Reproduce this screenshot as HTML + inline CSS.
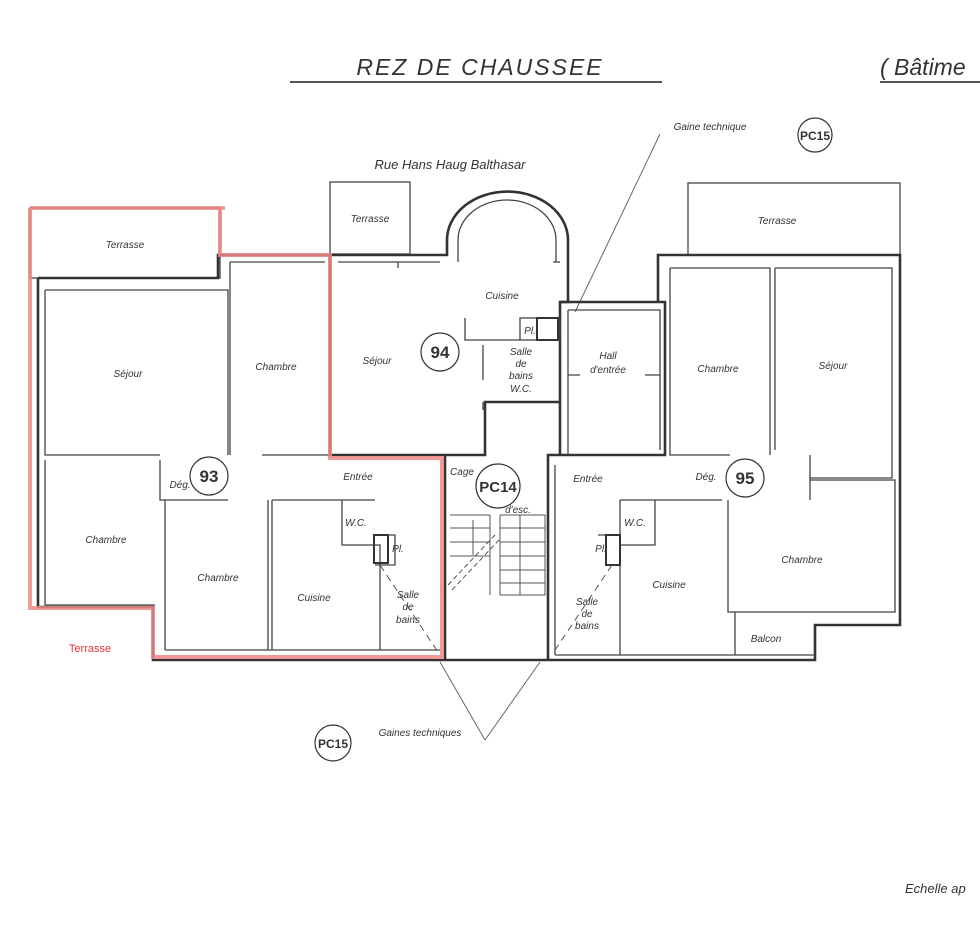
<!DOCTYPE html>
<html><head><meta charset="utf-8"><style>
html,body{margin:0;padding:0;background:#fff;}
svg{display:block}
text{font-family:"Liberation Sans",sans-serif;font-style:italic;fill:#333;}
.l{font-size:10px;}
.w{stroke:#444;fill:none;stroke-width:1.3}
.W{stroke:#333;fill:none;stroke-width:2.6}
.r{stroke:#e88;fill:none;stroke-width:4;opacity:.85}
.c{stroke:#333;fill:#fff;stroke-width:1.2}
.n{font-style:normal;font-weight:bold;font-size:17px;fill:#333}
</style></head><body>
<svg width="980" height="925" viewBox="0 0 980 925" xmlns="http://www.w3.org/2000/svg">
<text x="480" y="75" text-anchor="middle" style="font-size:23px;letter-spacing:2px">REZ DE CHAUSSEE</text>
<line x1="290" y1="82" x2="662" y2="82" stroke="#555" stroke-width="2"/>
<text x="880" y="75" style="font-size:23px">( Bâtime</text>
<line x1="880" y1="82" x2="980" y2="82" stroke="#555" stroke-width="2"/>
<text x="450" y="169" text-anchor="middle" style="font-size:13px">Rue Hans Haug Balthasar</text>
<text x="710" y="130" text-anchor="middle" class="l">Gaine technique</text>
<line x1="660" y1="134" x2="575" y2="312" stroke="#666" stroke-width="1"/>
<circle cx="815" cy="135" r="17" class="c"/><text x="815" y="140" text-anchor="middle" class="n" style="font-size:12px">PC15</text>

<rect x="30" y="208" width="190" height="70" class="w"/>
<rect x="330" y="182" width="80" height="72" class="w"/>
<rect x="688" y="183" width="212" height="72" class="w"/>

<path class="W" d="M38,278 L218,278 L218,255 L447,255 L447,240 A60,48 0 0 1 568,240 L568,302 L560,302 L560,455"/>
<path class="w" d="M458,262 L458,240 A49,40 0 0 1 556,240 L556,262"/>
<path class="W" d="M330,255 L330,455 L485,455 L485,402 L560,402"/>
<path class="W" d="M560,302 L665,302 L665,455 L548,455 L548,660"/>
<path class="W" d="M658,302 L658,255 L900,255 L900,625 L815,625 L815,660 L153,660 L153,607 L38,607 L38,278"/>
<path class="W" d="M445,455 L445,660"/>
<rect x="520" y="318" width="40" height="22" class="w"/>
<rect x="537" y="318" width="21" height="22" class="W" style="stroke-width:2"/>

<path class="w" d="M45,290 L228,290 L228,455 M45,290 L45,455 L160,455 M45,460 L45,605 L155,605 M160,460 L160,500 L228,500 M230,262 L325,262 M230,262 L230,455 M262,455 L330,455 M165,500 L165,650 M268,500 L268,650 M272,500 L272,650 M272,500 L375,500 M342,500 L342,545 L380,545 L380,650 M375,535 L395,535 L395,565 L375,565 M165,650 L440,650"/>
<rect x="374" y="535" width="14" height="28" class="W" style="stroke-width:2"/>
<line x1="380" y1="565" x2="440" y2="655" stroke="#555" stroke-dasharray="7,5"/>
<path class="w" d="M338,262 L440,262 M398,262 L398,268 M465,318 L465,340 L520,340 M483,345 L483,380 M483,402 L483,410 M553,262 L560,262"/>
<path class="w" d="M568,310 L660,310 L660,450 M568,310 L568,455 M568,375 L580,375 M645,375 L660,375"/>
<g stroke="#555" stroke-width="1" fill="none">
<path d="M450,515 L490,515 M450,528 L490,528 M450,542 L490,542 M450,556 L490,556 M490,515 L490,595 M500,515 L545,515 L545,595 L500,595 L500,515 M500,528 L545,528 M500,542 L545,542 M500,556 L545,556 M500,570 L545,570 M500,583 L545,583 M520,515 L520,595"/>
<path d="M448,585 L495,535 M452,590 L499,540" stroke-dasharray="5,3"/>
<line x1="473" y1="520" x2="473" y2="555"/>
</g>
<circle cx="498" cy="486" r="22" class="c"/><text x="498" y="492" text-anchor="middle" class="n" style="font-size:15px">PC14</text>
<path class="w" d="M670,268 L770,268 L770,455 M670,268 L670,455 L730,455 M775,268 L892,268 L892,478 L810,478 M775,268 L775,450 M810,455 L810,500 M728,500 L728,612 L895,612 L895,480 L810,480 M555,465 L555,655 M620,500 L722,500 M620,500 L620,655 M655,500 L655,545 L620,545 M598,535 L620,535 L620,565 M735,612 L735,655 L815,655 M555,655 L815,655"/>
<rect x="606" y="535" width="14" height="30" class="W" style="stroke-width:2"/>
<line x1="612" y1="565" x2="555" y2="650" stroke="#555" stroke-dasharray="7,5"/>

<path class="r" d="M30,208 L225,208 M220,208 L220,255 M30,208 L30,608 L153,608 L153,657 L442,657 L442,458 L330,458 L330,255 L218,255"/>
<text x="90" y="652" text-anchor="middle" style="font-style:normal;font-size:11px;fill:#e33">Terrasse</text>

<g>
<text x="125" y="248" text-anchor="middle" class="l">Terrasse</text>
<text x="128" y="377" text-anchor="middle" class="l">Séjour</text>
<text x="276" y="370" text-anchor="middle" class="l">Chambre</text>
<text x="106" y="543" text-anchor="middle" class="l">Chambre</text>
<text x="218" y="581" text-anchor="middle" class="l">Chambre</text>
<text x="314" y="601" text-anchor="middle" class="l">Cuisine</text>
<text x="358" y="480" text-anchor="middle" class="l">Entrée</text>
<text x="356" y="526" text-anchor="middle" class="l">W.C.</text>
<text x="398" y="552" text-anchor="middle" class="l">Pl.</text>
<text x="408" y="598" text-anchor="middle" class="l">Salle</text>
<text x="408" y="610" text-anchor="middle" class="l">de</text>
<text x="408" y="623" text-anchor="middle" class="l">bains</text>
<text x="180" y="488" text-anchor="middle" class="l">Dég.</text>
<text x="370" y="222" text-anchor="middle" class="l">Terrasse</text>
<text x="502" y="299" text-anchor="middle" class="l">Cuisine</text>
<text x="377" y="364" text-anchor="middle" class="l">Séjour</text>
<text x="530" y="334" text-anchor="middle" class="l">Pl.</text>
<text x="521" y="355" text-anchor="middle" class="l">Salle</text>
<text x="521" y="367" text-anchor="middle" class="l">de</text>
<text x="521" y="379" text-anchor="middle" class="l">bains</text>
<text x="521" y="392" text-anchor="middle" class="l">W.C.</text>
<text x="608" y="359" text-anchor="middle" class="l">Hall</text>
<text x="608" y="373" text-anchor="middle" class="l">d'entrée</text>
<text x="462" y="475" text-anchor="middle" class="l">Cage</text>
<text x="518" y="513" text-anchor="middle" class="l">d'esc.</text>
<text x="777" y="224" text-anchor="middle" class="l">Terrasse</text>
<text x="718" y="372" text-anchor="middle" class="l">Chambre</text>
<text x="833" y="369" text-anchor="middle" class="l">Séjour</text>
<text x="588" y="482" text-anchor="middle" class="l">Entrée</text>
<text x="706" y="480" text-anchor="middle" class="l">Dég.</text>
<text x="635" y="526" text-anchor="middle" class="l">W.C.</text>
<text x="601" y="552" text-anchor="middle" class="l">Pl.</text>
<text x="669" y="588" text-anchor="middle" class="l">Cuisine</text>
<text x="587" y="605" text-anchor="middle" class="l">Salle</text>
<text x="587" y="617" text-anchor="middle" class="l">de</text>
<text x="587" y="629" text-anchor="middle" class="l">bains</text>
<text x="802" y="563" text-anchor="middle" class="l">Chambre</text>
<text x="766" y="642" text-anchor="middle" class="l">Balcon</text>
</g>
<circle cx="209" cy="476" r="19" class="c"/><text x="209" y="482" text-anchor="middle" class="n">93</text>
<circle cx="440" cy="352" r="19" class="c"/><text x="440" y="358" text-anchor="middle" class="n">94</text>
<circle cx="745" cy="478" r="19" class="c"/><text x="745" y="484" text-anchor="middle" class="n">95</text>

<line x1="485" y1="740" x2="440" y2="662" stroke="#666"/>
<line x1="485" y1="740" x2="540" y2="662" stroke="#666"/>
<text x="420" y="736" text-anchor="middle" class="l">Gaines techniques</text>
<circle cx="333" cy="743" r="18" class="c"/><text x="333" y="748" text-anchor="middle" class="n" style="font-size:12px">PC15</text>
<text x="905" y="893" style="font-size:13px">Echelle ap</text>
</svg>
</body></html>
